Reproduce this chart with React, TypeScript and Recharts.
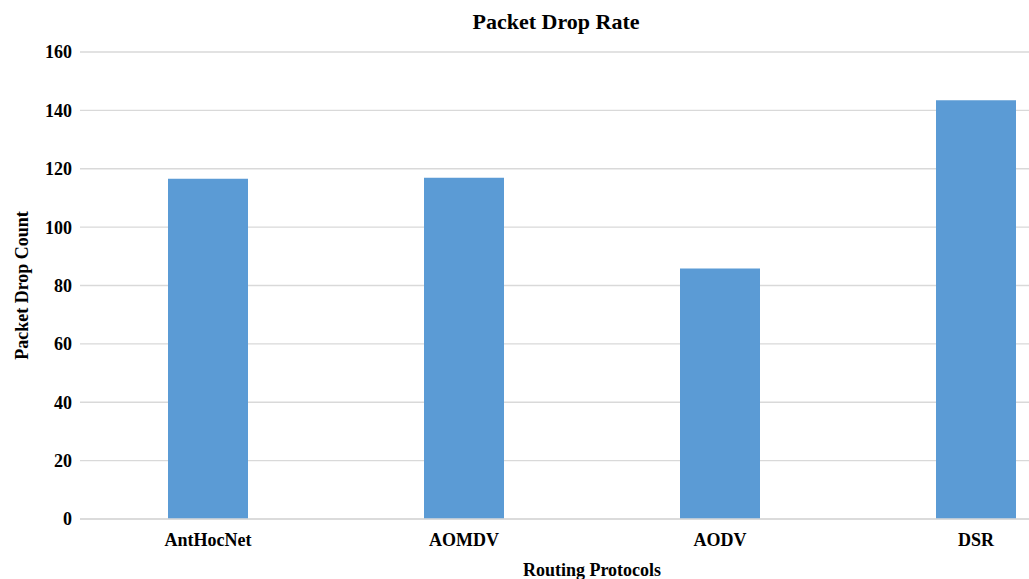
import React from "react";
import { BarChart, Bar, XAxis, YAxis, CartesianGrid, Label } from "recharts";

// Routing protocols compared in the simulation
const protocols = ["AntHocNet", "AOMDV", "AODV", "DSR"];
// Dropped packets per protocol
const dropCounts = [116.6, 116.9, 85.8, 143.5];
// Y axis tick values
const yTicks = [0, 20, 40, 60, 80, 100, 120, 140, 160];

const data = protocols.map((name, i) => ({ name, drops: dropCounts[i] }));

const FONT = "'Liberation Serif', 'Times New Roman', serif";
const tickStyle = { fontFamily: FONT, fontWeight: 700, fontSize: 18, fill: "#000" };

export default function App() {
  return (
    <div
      style={{
        position: "fixed",
        left: 0,
        top: 0,
        width: 1029,
        height: 579,
        overflow: "hidden",
        background: "#fff",
      }}
    >
      <div
        style={{
          position: "absolute",
          left: 0,
          width: 1112,
          top: 8,
          textAlign: "center",
          fontFamily: FONT,
          fontWeight: 700,
          fontSize: 22,
          lineHeight: "28px",
          color: "#000",
        }}
      >
        Packet Drop Rate
      </div>
      <BarChart
        width={1112}
        height={600}
        data={data}
        margin={{ top: 52, right: 8, left: 0, bottom: 21 }}
      >
        <CartesianGrid vertical={false} stroke="#d9d9d9" strokeWidth={1.3} />
        <XAxis
          dataKey="name"
          height={60}
          axisLine={{ stroke: "#d9d9d9", strokeWidth: 1.3 }}
          tickLine={false}
          tickMargin={8}
          tick={tickStyle}
        >
          <Label
            content={({ viewBox }: any) => (
              <text
                x={viewBox.x + viewBox.width / 2}
                y={viewBox.y + 57}
                textAnchor="middle"
                style={tickStyle}
              >
                Routing Protocols
              </text>
            )}
          />
        </XAxis>
        <YAxis
          width={80}
          domain={[0, 160]}
          ticks={yTicks}
          axisLine={false}
          tickLine={false}
          tick={tickStyle}
          interval={0}
        >
          <Label
            content={({ viewBox }: any) => {
              const cy = viewBox.y + viewBox.height / 2;
              return (
                <text
                  x={28}
                  y={cy}
                  transform={`rotate(-90, 28, ${cy})`}
                  textAnchor="middle"
                  style={tickStyle}
                >
                  Packet Drop Count
                </text>
              );
            }}
          />
        </YAxis>
        <Bar dataKey="drops" fill="#5B9BD5" barSize={80} isAnimationActive={false} />
      </BarChart>
    </div>
  );
}
